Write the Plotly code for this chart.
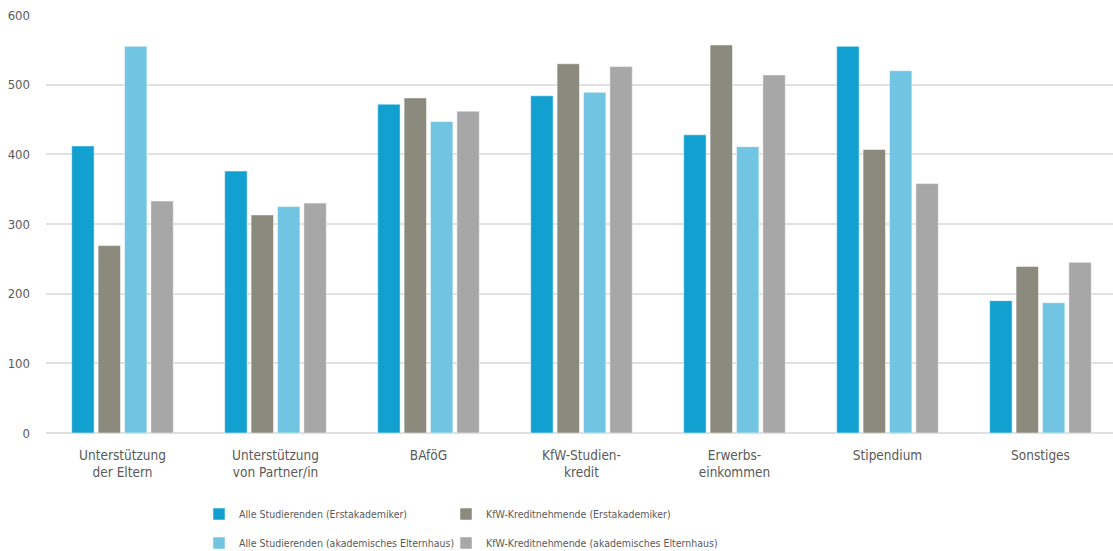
import plotly.graph_objects as go

categories = ["Unterstützung<br>der Eltern", "Unterstützung<br>von Partner/in", "BAföG",
              "KfW-Studien-<br>kredit", "Erwerbs-<br>einkommen", "Stipendium", "Sonstiges"]

alle_erst = [412, 376, 472, 484, 428, 555, 190]
kfw_erst = [269, 313, 481, 530, 557, 407, 239]
alle_akad = [555, 325, 447, 489, 411, 520, 187]
kfw_akad = [333, 330, 462, 526, 514, 358, 245]

series = [
    ("Alle Studierenden (Erstakademiker)", alle_erst, "#12A0D0", "legend"),
    ("KfW-Kreditnehmende (Erstakademiker)", kfw_erst, "#8C8A7C", "legend2"),
    ("Alle Studierenden (akademisches Elternhaus)", alle_akad, "#72C5E2", "legend3"),
    ("KfW-Kreditnehmende (akademisches Elternhaus)", kfw_akad, "#A7A7A7", "legend4"),
]

FONT = "DejaVu Sans Condensed, sans-serif"
TXT = "#5a5a5a"

fig = go.Figure()
for name, vals, color, lg in series:
    fig.add_trace(go.Bar(
        x=categories, y=vals, name=name, legend=lg, showlegend=True,
        marker=dict(color=color, line=dict(color="rgba(255,255,255,0.5)", width=1)),
    ))

legend_common = dict(
    orientation="h", xref="container", yref="container",
    xanchor="left", yanchor="middle",
    font=dict(family=FONT, size=10.5, color=TXT),
    itemwidth=30, bgcolor="rgba(0,0,0,0)", borderwidth=0,
)

row1 = 1 - 514 / 551
row2 = 1 - 543 / 551
col1 = 199 / 1113
col2 = 446 / 1113

fig.update_layout(
    width=1113, height=551,
    margin=dict(l=46, r=0, t=15, b=118),
    paper_bgcolor="white", plot_bgcolor="white",
    showlegend=True,
    barmode="group", bargap=0.31, bargroupgap=0.15,
    font=dict(family=FONT, size=13.5, color=TXT),
    legend=dict(x=col1, y=row1, **legend_common),
    legend2=dict(x=col2, y=row1, **legend_common),
    legend3=dict(x=col1, y=row2, **legend_common),
    legend4=dict(x=col2, y=row2, **legend_common),
    xaxis=dict(showgrid=False, showline=False, ticks="", range=[-0.5, 6.474],
               ticklabelstandoff=12,
               tickfont=dict(family=FONT, size=13.5, color=TXT)),
    yaxis=dict(range=[0, 600], dtick=100, showgrid=True, gridcolor="#e0e0e0",
               gridwidth=2, zeroline=True, zerolinecolor="#e0e0e0", zerolinewidth=2,
               showline=False, ticks="", ticklabelstandoff=15,
               tickfont=dict(family=FONT, size=13, color=TXT)),
)

fig.write_html("out.html")
